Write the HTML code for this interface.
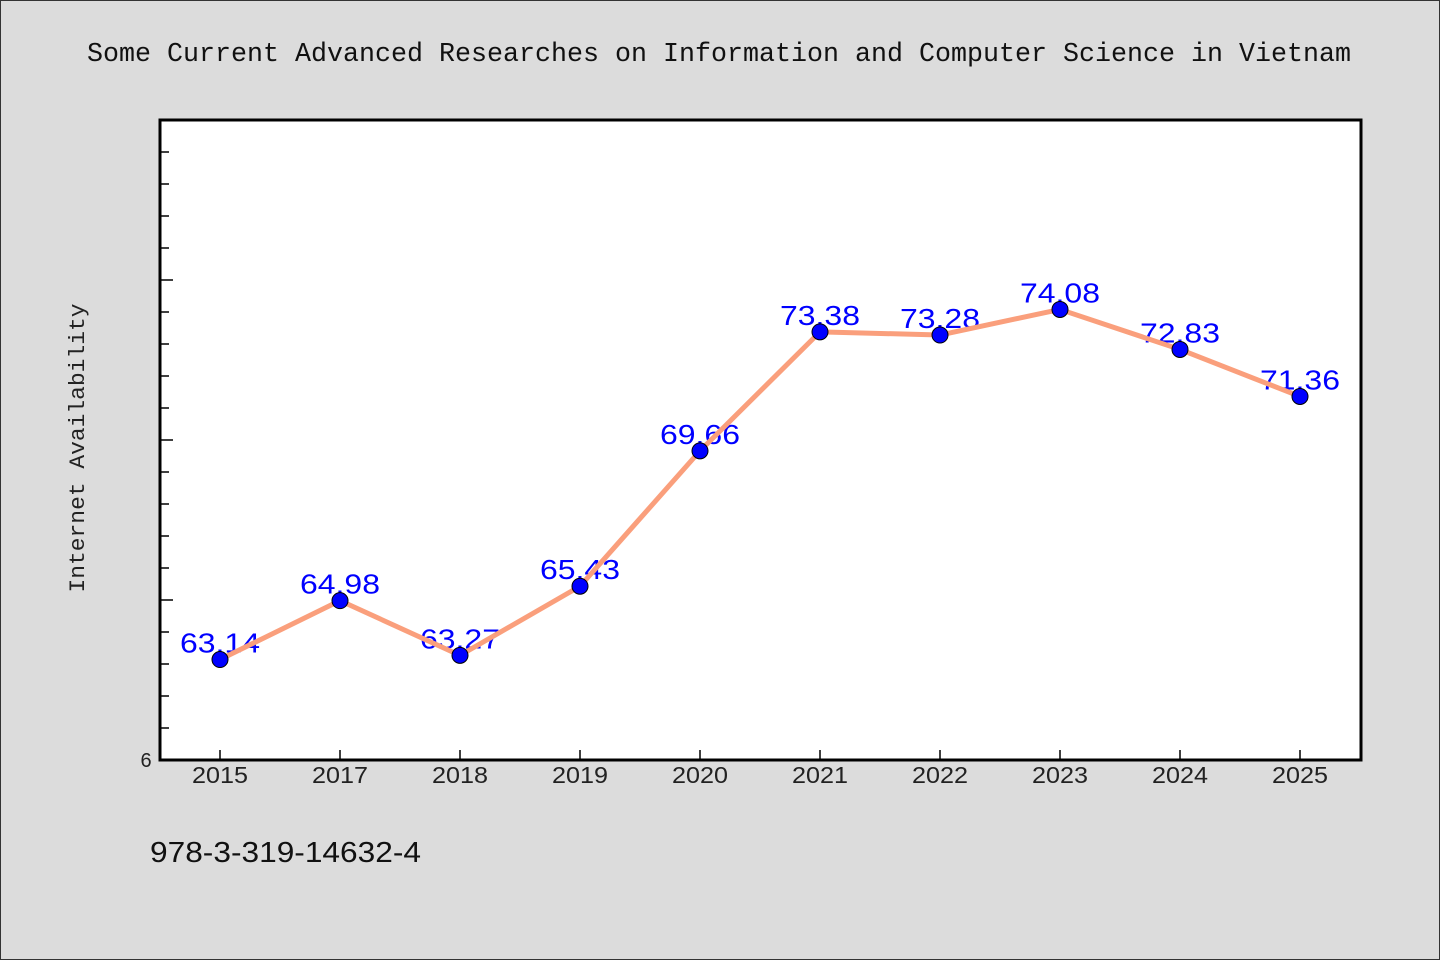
<!DOCTYPE html>
<html><head><meta charset="utf-8"><style>
html,body{margin:0;padding:0;background:#dcdcdc}
svg{display:block}
</style></head><body>
<svg width="1440" height="960" xmlns="http://www.w3.org/2000/svg">
<rect x="0.5" y="0.5" width="1439" height="959" fill="#dcdcdc" stroke="#333"/>
<text x="719" y="61" text-anchor="middle" font-family="'Liberation Mono',monospace" font-size="27" textLength="1264" lengthAdjust="spacingAndGlyphs" fill="#111">Some Current Advanced Researches on Information and Computer Science in Vietnam</text>
<rect x="160" y="120" width="1201" height="640" fill="#fff"/>
<g id="yticks"></g>
<g id="xticks"></g>
<g id="labels"></g>
<path id="line" fill="none" stroke="#fa9f7c" stroke-width="5" stroke-linejoin="round"/>
<g id="points"></g>
<rect x="160" y="120" width="1201" height="640" fill="none" stroke="#000" stroke-width="3"/>
<text x="146" y="767" text-anchor="middle" font-family="'Liberation Sans',sans-serif" font-size="20" fill="#222">6</text>
<text transform="translate(84,448) rotate(-90)" text-anchor="middle" font-family="'Liberation Mono',monospace" font-size="22" textLength="289" lengthAdjust="spacingAndGlyphs" fill="#222">Internet Availability</text>
<text x="150" y="862" font-family="'Liberation Sans',sans-serif" font-size="29" textLength="271" lengthAdjust="spacingAndGlyphs" fill="#111">978-3-319-14632-4</text>
</svg>
<script>
const categories=["2015","2017","2018","2019","2020","2021","2022","2023","2024","2025"];
const values=[63.14,64.98,63.27,65.43,69.66,73.38,73.28,74.08,72.83,71.36];
const valueLabels=["63.14","64.98","63.27","65.43","69.66","73.38","73.28","74.08","72.83","71.36"];
const yMin=60, yMax=80;
const NS="http://www.w3.org/2000/svg";
function y(v){return 760-(v-yMin)/(yMax-yMin)*640;}
function x(i){return 220+i*120;}
function mk(t,a,p){const e=document.createElementNS(NS,t);for(const k in a)e.setAttribute(k,a[k]);document.getElementById(p).appendChild(e);return e;}
for(let v=yMin+1;v<yMax;v++){
  const len=(v%5===0)?13:9;
  const e=mk('line',{x1:160,x2:160+len,y1:y(v),y2:y(v),stroke:'#000','stroke-width':1.5},'yticks');
  
  
}
let d='';
categories.forEach((c,i)=>{
  const t=mk('line',{x1:x(i),x2:x(i),y1:760,y2:750,stroke:'#000','stroke-width':1.5},'xticks');
  
  
  const tl=mk('text',{x:x(i),y:783,'text-anchor':'middle','font-family':"'Liberation Sans',sans-serif",'font-size':23,fill:'#222',textLength:56,lengthAdjust:'spacingAndGlyphs'},'xticks');
  tl.textContent=c;
  
  
  const lb=mk('text',{x:x(i),y:y(values[i])-7,'text-anchor':'middle','font-family':"'Liberation Sans',sans-serif",'font-size':28,fill:'#0000ff',textLength:80,lengthAdjust:'spacingAndGlyphs'},'labels');
  lb.textContent=valueLabels[i];
  
  
  d+=(i?'L':'M')+x(i)+','+y(values[i]);
  const p=mk('circle',{cx:x(i),cy:y(values[i]),r:8,fill:'#0000ff',stroke:'#000','stroke-width':1},'points');
  
  
});
document.getElementById('line').setAttribute('d',d);
</script>
</body></html>
